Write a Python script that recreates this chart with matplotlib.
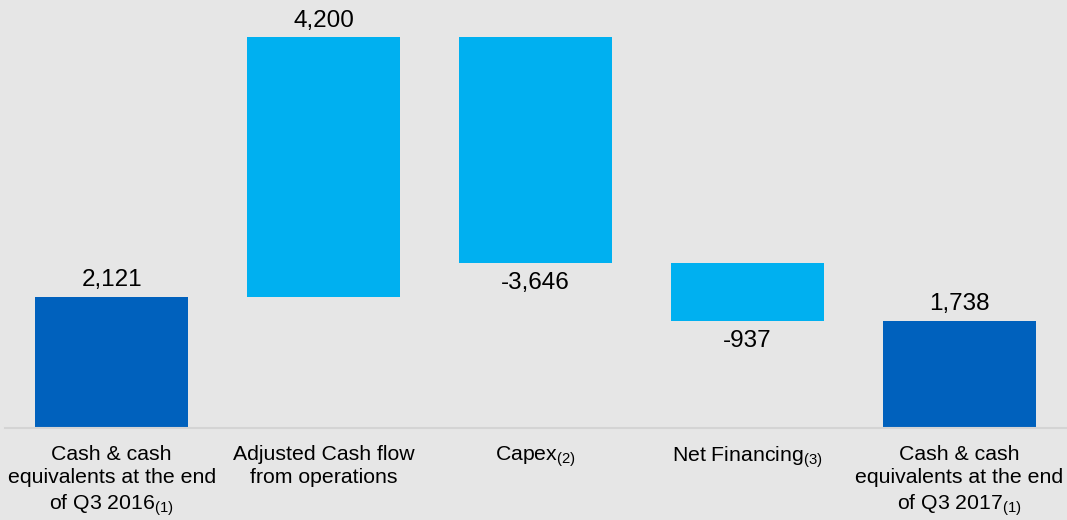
import matplotlib
matplotlib.use("Agg")
import matplotlib.pyplot as plt

plt.rcParams['font.family'] = ['Liberation Sans', 'DejaVu Sans']
plt.rcParams['mathtext.fontset'] = 'custom'
plt.rcParams['mathtext.rm'] = 'Liberation Sans'
plt.rcParams['mathtext.it'] = 'Liberation Sans'

# waterfall data (EUR m)
categories = [
    "Cash & cash\nequivalents at the end\nof Q3 2016$_{\\mathrm{(1)}}$",
    "Adjusted Cash flow\nfrom operations",
    "Capex$_{\\mathrm{(2)}}$",
    "Net Financing$_{\\mathrm{(3)}}$",
    "Cash & cash\nequivalents at the end\nof Q3 2017$_{\\mathrm{(1)}}$",
]
start_cash = 2121
changes = [4200, -3646, -937]
end_cash = 1738
value_labels = ["2,121", "4,200", "-3,646", "-937", "1,738"]

dark_blue = "#0061bd"
light_blue = "#00b0f0"
bg = "#e6e6e6"

fig = plt.figure(figsize=(10.67, 5.2), dpi=100, facecolor=bg)
ax = fig.add_axes([0.005, 1 - 428 / 520, 0.995, 428 / 520])
ax.set_facecolor(bg)

width = 0.72
x = list(range(len(categories)))

# opening and closing totals
ax.bar(x[0], start_cash, width=width, color=dark_blue)
ax.bar(x[-1], end_cash, width=width, color=dark_blue)

# floating steps
running = start_cash
bottoms, tops = [], []
for i, ch in enumerate(changes):
    lo, hi = (running, running + ch) if ch > 0 else (running + ch, running)
    ax.bar(x[i + 1], hi - lo, bottom=lo, width=width, color=light_blue)
    bottoms.append(lo)
    tops.append(hi)
    running += ch

fs_val = 17.5
ax.annotate(value_labels[0], (x[0], start_cash), xytext=(0, 4), textcoords="offset points",
            ha="center", va="bottom", fontsize=fs_val)
for i, ch in enumerate(changes):
    if ch > 0:
        ax.annotate(value_labels[i + 1], (x[i + 1], tops[i]), xytext=(0, 4),
                    textcoords="offset points", ha="center", va="bottom", fontsize=fs_val)
    else:
        ax.annotate(value_labels[i + 1], (x[i + 1], bottoms[i]), xytext=(0, -6.5),
                    textcoords="offset points", ha="center", va="top", fontsize=fs_val)
ax.annotate(value_labels[-1], (x[-1], end_cash), xytext=(0, 4), textcoords="offset points",
            ha="center", va="bottom", fontsize=fs_val)

ax.set_xlim(-0.502, 4.507)
ax.set_ylim(0, 6925)
ax.set_xticks(x)
ax.set_xticklabels(categories, fontsize=15.3, linespacing=1.3)
ax.tick_params(axis="x", length=0, pad=12)
ax.set_yticks([])
for side in ["top", "right", "left"]:
    ax.spines[side].set_visible(False)
ax.spines["bottom"].set_color("#d4d4d4")
ax.spines["bottom"].set_linewidth(1.5)

fig.savefig("out.png", dpi=100, facecolor=bg)
